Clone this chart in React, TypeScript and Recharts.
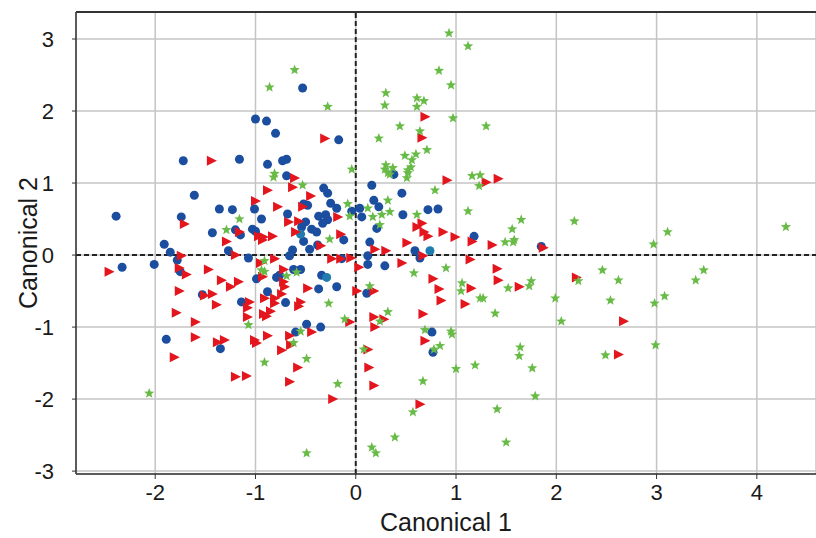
import React from 'react';
import { CartesianGrid, ReferenceLine, Scatter, ScatterChart, XAxis, YAxis } from 'recharts';

// canonical scores per group, [canonical 1, canonical 2]
const blueGroup: Array<[number, number]> = [
  [-1.72, 1.31], [-0.53, 2.32], [-1.0, 1.89], [-0.89, 1.86], [-0.8, 1.69], [-0.17, 1.6],
  [-1.16, 1.33], [-0.88, 1.26], [-0.73, 1.31], [-0.69, 1.33], [-1.61, 0.83], [-2.39, 0.54],
  [-1.74, 0.53], [-1.36, 0.64], [-1.43, 0.31], [-1.91, 0.15], [-1.85, 0.04], [-1.78, -0.07],
  [-2.33, -0.17], [-2.01, -0.13], [-1.75, -0.23], [-1.53, -0.55], [-1.89, -1.17], [-1.35, -1.3],
  [-0.69, 1.1], [-0.32, 0.93], [-0.28, 0.86], [-0.25, 0.72], [-0.52, 0.71], [-0.48, 0.69],
  [-1.23, 0.63], [-1.01, 0.64], [-0.19, 0.65], [-0.04, 0.61], [-0.68, 0.57], [-0.37, 0.54],
  [-0.3, 0.56], [-0.28, 0.49], [-0.94, 0.5], [-0.5, 0.46], [-0.33, 0.44], [-1.2, 0.35],
  [-1.15, 0.28], [-1.03, 0.36], [-1.0, 0.33], [-0.54, 0.39], [-0.44, 0.36], [-0.39, 0.32],
  [-0.12, 0.21], [-0.52, 0.19], [-0.38, 0.14], [-0.46, 0.08], [-0.63, 0.07], [-1.27, 0.06],
  [-0.66, -0.01], [-1.07, -0.04], [-0.14, -0.05], [-0.62, -0.2], [-0.55, -0.2], [-0.99, -0.33],
  [-0.79, -0.31], [-0.76, -0.28], [-0.34, -0.28], [-0.19, -0.44], [-0.37, -0.47], [-0.88, -0.51],
  [-1.14, -0.65], [-0.7, -0.66], [-0.49, -0.96], [-0.35, -1.0], [-0.6, -1.07], [0.38, 1.12],
  [0.16, 0.97], [0.46, 0.86], [0.18, 0.76], [0.23, 0.67], [0.04, 0.65], [0.06, 0.53],
  [0.47, 0.56], [0.72, 0.63], [0.82, 0.64], [0.21, 0.37], [1.18, 0.26], [0.14, 0.18],
  [0.59, 0.06], [0.12, -0.01], [0.64, -0.04], [0.12, -0.13], [0.29, -0.15], [0.11, -0.53],
  [0.76, -1.07], [0.77, -1.35], [1.85, 0.12],
];

const tealGroup: Array<[number, number]> = [
  [-0.55, 0.29], [-0.29, -0.31], [0.74, 0.06],
];

const redGroup: Array<[number, number]> = [
  [-1.44, 1.31], [-0.31, 1.62], [-1.71, 0.43], [-1.74, -0.01], [-2.46, -0.23], [-1.76, -0.18],
  [-1.69, -0.27], [-1.47, -0.2], [-1.34, -0.35], [-1.76, -0.5], [-1.51, -0.56], [-1.43, -0.54],
  [-1.39, -0.69], [-1.79, -0.8], [-1.6, -0.93], [-1.6, -1.14], [-1.38, -1.21], [-1.81, -1.42],
  [-0.61, 1.07], [-0.63, 0.94], [-0.88, 0.9], [-0.45, 0.82], [-1.0, 0.75], [-0.53, 0.67],
  [-0.78, 0.67], [-0.18, 0.53], [-0.67, 0.46], [-0.57, 0.47], [-1.16, 0.32], [-0.6, 0.32],
  [-0.97, 0.26], [-0.93, 0.21], [-0.92, 0.25], [-0.83, 0.26], [-0.15, 0.29], [-1.29, 0.19],
  [-0.35, 0.13], [-1.2, 0.0], [-0.81, -0.05], [-0.24, -0.05], [-0.15, -0.05], [-0.05, -0.04],
  [-0.95, -0.11], [-0.72, -0.2], [0.03, -0.17], [-1.17, -0.37], [-1.25, -0.44], [-0.93, -0.3],
  [-0.72, -0.37], [-0.71, -0.44], [-0.48, -0.46], [0.01, -0.5], [-0.91, -0.6], [-0.81, -0.6],
  [-0.74, -0.54], [-1.06, -0.65], [-1.08, -0.73], [-0.81, -0.67], [-0.55, -0.65], [-0.57, -0.71],
  [-1.08, -0.86], [-0.92, -0.82], [-0.85, -0.78], [-0.89, -0.85], [-0.06, -0.93], [-1.31, -1.18],
  [-1.01, -1.18], [-0.99, -1.22], [-0.88, -1.12], [-0.66, -1.12], [-0.44, -1.07], [-0.65, -1.25],
  [-0.74, -1.32], [-0.58, -1.56], [-1.2, -1.69], [-1.09, -1.68], [-0.66, -1.76], [-0.23, -2.0],
  [0.69, 1.92], [0.66, 1.63], [0.91, 1.04], [1.3, 1.01], [0.66, 0.44], [0.61, 0.39],
  [0.68, 0.32], [0.72, 0.26], [0.87, 0.32], [0.99, 0.25], [1.16, 0.19], [1.36, 0.14],
  [0.51, 0.17], [0.19, 0.08], [0.3, 0.06], [0.67, -0.01], [1.14, -0.06], [0.46, -0.11],
  [1.41, -0.19], [0.77, -0.33], [1.42, -0.35], [0.83, -0.47], [1.15, -0.46], [0.18, -0.5],
  [0.85, -0.63], [1.09, -0.68], [0.67, -0.82], [0.18, -0.86], [0.28, -0.89], [0.19, -1.0],
  [0.69, -1.19], [0.12, -1.31], [0.13, -1.56], [0.18, -1.81], [0.64, -2.07], [1.42, 1.06],
  [1.87, 0.1], [1.63, -0.44], [2.2, -0.31], [2.67, -0.92], [2.62, -1.38],
];

const greenGroup: Array<[number, number]> = [
  [-0.61, 2.57], [-0.86, 2.33], [-0.28, 2.06], [-0.04, 1.19], [-0.81, 1.13], [-0.82, 1.08],
  [0.93, 3.08], [1.12, 2.9], [0.83, 2.56], [0.95, 2.36], [0.3, 2.25], [0.29, 2.08],
  [0.61, 2.18], [0.68, 2.14], [0.61, 2.06], [0.97, 1.9], [1.3, 1.79], [0.44, 1.79],
  [0.64, 1.72], [0.23, 1.62], [0.71, 1.46], [0.6, 1.4], [0.49, 1.38], [0.56, 1.32],
  [0.3, 1.25], [0.37, 1.21], [0.29, 1.19], [0.55, 1.22], [0.52, 1.18], [-0.53, 0.97],
  [-0.08, 0.71], [-0.06, 0.54], [-1.16, 0.5], [-1.29, 0.35], [-0.26, 0.22], [-0.91, -0.08],
  [-0.94, -0.21], [-0.91, -0.23], [-0.59, -0.24], [-0.69, -0.29], [-0.27, -0.67], [-0.11, -0.89],
  [-1.07, -0.97], [-0.55, -1.06], [-0.62, -1.22], [-0.91, -1.49], [-0.49, -1.44], [-0.18, -1.79],
  [-0.49, -2.75], [-2.06, -1.92], [0.32, 1.14], [0.34, 1.12], [0.52, 1.14], [0.51, 1.07],
  [1.16, 1.1], [1.24, 1.11], [1.23, 0.96], [0.79, 0.9], [0.32, 0.76], [0.12, 0.65],
  [0.17, 0.53], [0.26, 0.56], [0.34, 0.6], [0.61, 0.56], [1.12, 0.61], [0.24, 0.42],
  [0.9, -0.18], [0.58, -0.25], [1.06, -0.39], [0.14, -0.43], [1.05, -0.5], [1.24, -0.6],
  [1.27, -0.6], [1.39, -0.81], [0.32, -0.79], [0.24, -0.92], [0.69, -1.04], [0.95, -1.06],
  [0.96, -1.1], [0.84, -1.26], [0.78, -1.31], [0.08, -1.31], [1.0, -1.58], [1.19, -1.53],
  [0.67, -1.75], [0.57, -2.18], [1.41, -2.14], [0.39, -2.53], [0.16, -2.67], [0.2, -2.75],
  [1.65, 0.49], [2.18, 0.47], [1.56, 0.36], [1.49, 0.18], [1.57, 0.18], [1.58, 0.21],
  [2.97, 0.15], [3.11, 0.32], [4.29, 0.39], [1.52, -0.46], [1.75, -0.36], [1.73, -0.43],
  [2.22, -0.36], [2.46, -0.21], [2.62, -0.35], [3.47, -0.21], [3.39, -0.35], [1.99, -0.6],
  [2.54, -0.63], [3.08, -0.57], [2.98, -0.67], [2.05, -0.92], [1.64, -1.28], [1.63, -1.4],
  [1.76, -1.57], [1.79, -1.96], [1.5, -2.6], [2.49, -1.39], [2.99, -1.25],
];

const xTicks = [-2, -1, 0, 1, 2, 3, 4];
const yTicks = [-3, -2, -1, 0, 1, 2, 3];

const toPoints = (rows: Array<[number, number]>) => rows.map(([x, y]) => ({ x, y }));

const FONT = '"Liberation Sans", Arial, sans-serif';

const Dot = (color: string) => (props: any) => (
  <circle cx={props.cx} cy={props.cy} r={4.5} fill={color} />
);

const Triangle = (props: any) => {
  const { cx, cy } = props;
  return <polygon points={`${cx - 4.5},${cy - 5} ${cx + 5.5},${cy} ${cx - 4.5},${cy + 5}`} fill="#e3151d" />;
};

const Star = (props: any) => {
  const { cx, cy } = props;
  const pts: string[] = [];
  for (let i = 0; i < 10; i++) {
    const r = i % 2 === 0 ? 5.4 : 2.3;
    const a = -Math.PI / 2 + (i * Math.PI) / 5;
    pts.push(`${cx + r * Math.cos(a)},${cy + r * Math.sin(a)}`);
  }
  return <polygon points={pts.join(' ')} fill="#68bb46" />;
};

export default function App() {
  return (
    <div style={{ position: 'absolute', left: 0, top: 0 }}>
      <ScatterChart width={816} height={538} margin={{ top: 12, right: 0, bottom: 0, left: 0 }}>
        <CartesianGrid stroke="#c4c4c4" strokeWidth={1.5} />
        <XAxis
          type="number"
          dataKey="x"
          domain={[-2.79, 4.59]}
          ticks={xTicks}
          allowDataOverflow
          height={64}
          tick={{ fontSize: 22, fill: '#1a1a1a', fontFamily: FONT }}
          tickSize={5}
          tickMargin={5}
          tickLine={{ stroke: '#333' }}
          axisLine={{ stroke: '#333', strokeWidth: 1.5 }}
          label={({ viewBox }: any) => (
            <text
              x={viewBox.x + viewBox.width / 2}
              y={531}
              textAnchor="middle"
              fontSize={25}
              fontFamily={FONT}
              fill="#1a1a1a"
            >
              Canonical 1
            </text>
          )}
        />
        <YAxis
          type="number"
          dataKey="y"
          domain={[-3.04, 3.375]}
          ticks={yTicks}
          allowDataOverflow
          width={76}
          tick={{ fontSize: 22, fill: '#1a1a1a', fontFamily: FONT }}
          tickSize={4}
          tickMargin={18}
          tickLine={{ stroke: '#333' }}
          axisLine={{ stroke: '#333', strokeWidth: 1.5 }}
          label={({ viewBox }: any) => {
            const cy = viewBox.y + viewBox.height / 2;
            return (
              <text
                x={28}
                y={cy}
                transform={`rotate(-90, 28, ${cy})`}
                textAnchor="middle"
                dominantBaseline="central"
                fontSize={25}
                fontFamily={FONT}
                fill="#1a1a1a"
              >
                Canonical 2
              </text>
            );
          }}
        />
        <ReferenceLine y={3.375} stroke="#333" strokeWidth={2} />
        <ReferenceLine x={0} stroke="#222" strokeWidth={2} strokeDasharray="5 3" />
        <ReferenceLine y={0} stroke="#222" strokeWidth={2} strokeDasharray="5 3" />
        <Scatter data={toPoints(blueGroup)} shape={Dot('#1c4ea0')} isAnimationActive={false} />
        <Scatter data={toPoints(tealGroup)} shape={Dot('#1f7cae')} isAnimationActive={false} />
        <Scatter data={toPoints(redGroup)} shape={Triangle} isAnimationActive={false} />
        <Scatter data={toPoints(greenGroup)} shape={Star} isAnimationActive={false} />
      </ScatterChart>
    </div>
  );
}
